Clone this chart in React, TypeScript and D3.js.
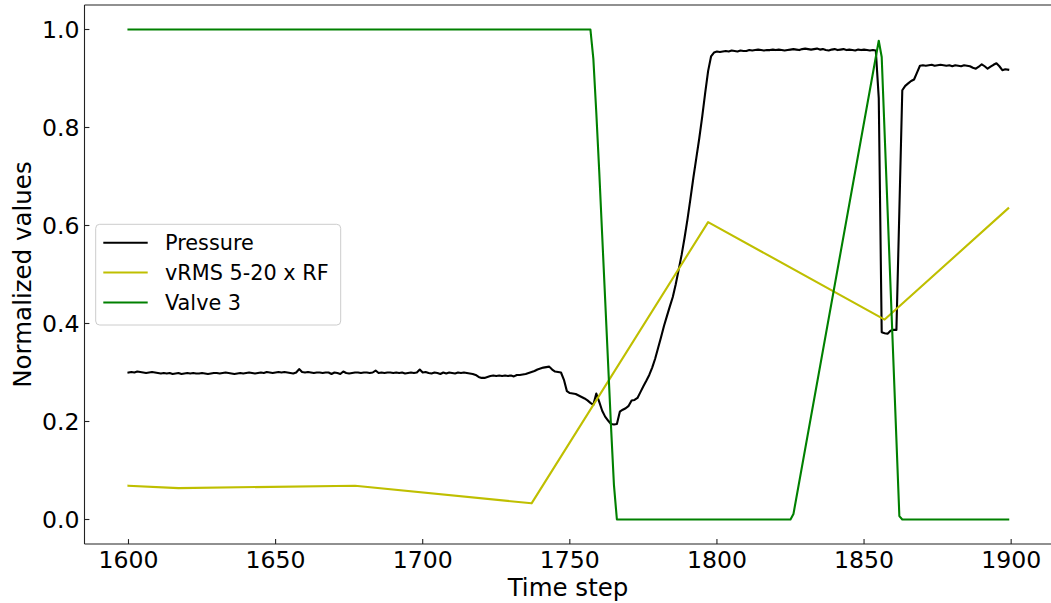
import React from "react";
import * as d3 from "d3";

const W = 1051;
const H = 603;

// Pressure: one value per time step, 1600..1899
const pressureStart = 1600;
const pressureValues = [
  0.300, 0.301, 0.300, 0.302, 0.301, 0.300, 0.299, 0.300, 0.301, 0.300,
  0.299, 0.298, 0.299, 0.298, 0.299, 0.297, 0.298, 0.299, 0.297, 0.298,
  0.299, 0.298, 0.299, 0.298, 0.298, 0.299, 0.298, 0.297, 0.298, 0.299,
  0.299, 0.298, 0.299, 0.300, 0.299, 0.298, 0.297, 0.298, 0.299, 0.298,
  0.299, 0.300, 0.299, 0.298, 0.299, 0.300, 0.299, 0.301, 0.300, 0.299,
  0.300, 0.301, 0.300, 0.301, 0.300, 0.299, 0.298, 0.300, 0.307, 0.301,
  0.300, 0.301, 0.300, 0.299, 0.300, 0.300, 0.299, 0.300, 0.300, 0.297,
  0.300, 0.299, 0.297, 0.302, 0.299, 0.298, 0.299, 0.300, 0.300, 0.299,
  0.300, 0.300, 0.299, 0.300, 0.304, 0.299, 0.300, 0.299, 0.300, 0.300,
  0.299, 0.300, 0.299, 0.300, 0.298, 0.299, 0.300, 0.299, 0.300, 0.306,
  0.300, 0.301, 0.299, 0.298, 0.300, 0.299, 0.297, 0.300, 0.298, 0.300,
  0.299, 0.298, 0.300, 0.299, 0.300, 0.299, 0.298, 0.297, 0.295, 0.291,
  0.289, 0.289, 0.291, 0.293, 0.294, 0.293, 0.294, 0.293, 0.294, 0.293,
  0.294, 0.292, 0.295, 0.295, 0.296, 0.297, 0.299, 0.301, 0.303, 0.306,
  0.308, 0.310, 0.311, 0.312, 0.306, 0.302, 0.301, 0.300, 0.285, 0.262,
  0.258, 0.257, 0.256, 0.253, 0.250, 0.247, 0.243, 0.238, 0.234, 0.257,
  0.240, 0.222, 0.210, 0.202, 0.195, 0.194, 0.195, 0.220, 0.224, 0.227,
  0.232, 0.243, 0.244, 0.248, 0.260, 0.272, 0.283, 0.295, 0.310, 0.328,
  0.350, 0.372, 0.395, 0.415, 0.435, 0.454, 0.480, 0.510, 0.540, 0.575,
  0.613, 0.655, 0.698, 0.738, 0.778, 0.822, 0.870, 0.915, 0.945, 0.953,
  0.955, 0.954, 0.955, 0.956, 0.955, 0.957, 0.956, 0.955, 0.957, 0.956,
  0.956, 0.958, 0.957, 0.958, 0.959, 0.958, 0.957, 0.958, 0.958, 0.959,
  0.958, 0.959, 0.958, 0.957, 0.958, 0.959, 0.960, 0.959, 0.958, 0.960,
  0.961, 0.960, 0.959, 0.960, 0.961, 0.959, 0.960, 0.958, 0.957, 0.959,
  0.960, 0.958, 0.959, 0.960, 0.958, 0.959, 0.958, 0.957, 0.959, 0.958,
  0.959, 0.958, 0.957, 0.958, 0.957, 0.860, 0.382, 0.380, 0.379, 0.385,
  0.387, 0.387, 0.630, 0.876, 0.885, 0.890, 0.895, 0.898, 0.912, 0.926,
  0.927, 0.926, 0.927, 0.928, 0.926, 0.927, 0.928, 0.927, 0.926, 0.927,
  0.925, 0.927, 0.926, 0.925, 0.927, 0.926, 0.925, 0.922, 0.920, 0.924,
  0.929, 0.925, 0.920, 0.924, 0.928, 0.931, 0.925, 0.917, 0.919, 0.918,
];

// vRMS 5-20 x RF (sampled breakpoints)
const vrmsSteps = [1600, 1617, 1677, 1737, 1797, 1857, 1899];
const vrmsValues = [0.069, 0.064, 0.069, 0.033, 0.607, 0.408, 0.635];

// Valve 3
const valveSteps = [1600, 1757, 1758, 1759, 1760, 1761, 1762, 1763, 1764, 1765, 1766, 1825, 1826, 1855, 1856, 1862, 1863, 1899];
const valveValues = [1.0, 1.0, 0.94, 0.83, 0.71, 0.58, 0.45, 0.32, 0.19, 0.07, 0.0, 0.0, 0.011, 0.977, 0.944, 0.007, 0.0, 0.0];

const xTicks = [1600, 1650, 1700, 1750, 1800, 1850, 1900];
const yTicks = [0.0, 0.2, 0.4, 0.6, 0.8, 1.0];

const seriesNames = ["Pressure", "vRMS 5-20 x RF", "Valve 3"];
const seriesColors = ["#000000", "#bfbf00", "#008000"];

const FONT = "'DejaVu Sans', sans-serif";

export default function App() {
  const left = 84.5;
  const right = 1052.2;
  const top = 5;
  const bottom = 544;

  const x = d3.scaleLinear().domain([1585.05, 1913.95]).range([left, right]);
  const y = d3.scaleLinear().domain([-0.05, 1.05]).range([bottom, top]);

  const line = d3
    .line<[number, number]>()
    .x((d) => x(d[0]))
    .y((d) => y(d[1]));

  const pressureData: [number, number][] = pressureValues.map((v, i) => [pressureStart + i, v]);
  const vrmsData: [number, number][] = vrmsSteps.map((t, i) => [t, vrmsValues[i]]);
  const valveData: [number, number][] = valveSteps.map((t, i) => [t, valveValues[i]]);

  const datasets = [pressureData, vrmsData, valveData];

  const legendX = 95.7;
  const legendY = 224.3;
  const legendW = 245;
  const legendH = 100.7;
  const rowY = [242.7, 272.5, 302.5];

  return (
    <svg
      width={W}
      height={H}
      style={{ position: "fixed", left: 0, top: 0, background: "#fff" }}
      fontFamily={FONT}
    >
      <defs>
        <clipPath id="plot">
          <rect x={left} y={top} width={right - left} height={bottom - top} />
        </clipPath>
      </defs>
      <rect x={0} y={0} width={W} height={H} fill="#fff" />

      <g clipPath="url(#plot)" fill="none" strokeWidth={2.1} strokeLinejoin="round" strokeLinecap="square">
        {datasets.map((d, i) => (
          <path key={i} d={line(d) || ""} stroke={seriesColors[i]} />
        ))}
      </g>

      {/* spines */}
      <line x1={left} x2={left} y1={top} y2={bottom} stroke="#222" strokeWidth={1.1} />
      <line x1={left} x2={right} y1={bottom} y2={bottom} stroke="#222" strokeWidth={1.1} />
      <line x1={left} x2={right} y1={top} y2={top} stroke="#222" strokeWidth={1.1} />
      <line x1={right} x2={right} y1={top} y2={bottom} stroke="#222" strokeWidth={1.1} />

      {/* x ticks */}
      {xTicks.map((t) => (
        <g key={t}>
          <line x1={x(t)} x2={x(t)} y1={bottom} y2={bottom - 4.9} stroke="#222" strokeWidth={1.1} />
          <text x={x(t)} y={567.5} textAnchor="middle" fontSize={23.6} fill="#000">
            {t}
          </text>
        </g>
      ))}

      {/* y ticks */}
      {yTicks.map((t) => (
        <g key={t}>
          <line x1={left} x2={left + 4.9} y1={y(t)} y2={y(t)} stroke="#222" strokeWidth={1.1} />
          <text x={79.6} y={y(t)} dy="0.36em" textAnchor="end" fontSize={23.6} fill="#000">
            {t.toFixed(1)}
          </text>
        </g>
      ))}

      {/* axis labels */}
      <text x={568} y={596} textAnchor="middle" fontSize={24.5} fill="#000">
        Time step
      </text>
      <text
        transform={`translate(31, ${(top + bottom) / 2}) rotate(-90)`}
        textAnchor="middle"
        fontSize={24.5}
        fill="#000"
      >
        Normalized values
      </text>

      {/* legend */}
      <rect
        x={legendX}
        y={legendY}
        width={legendW}
        height={legendH}
        rx={4}
        ry={4}
        fill="#fff"
        fillOpacity={0.8}
        stroke="#cccccc"
        strokeWidth={1}
      />
      {seriesNames.map((name, i) => (
        <g key={name}>
          <line x1={103.3} x2={147.7} y1={rowY[i]} y2={rowY[i]} stroke={seriesColors[i]} strokeWidth={2.1} />
          <text x={165} y={rowY[i]} dy="0.36em" fontSize={20.8} fill="#000">
            {name}
          </text>
        </g>
      ))}
    </svg>
  );
}
